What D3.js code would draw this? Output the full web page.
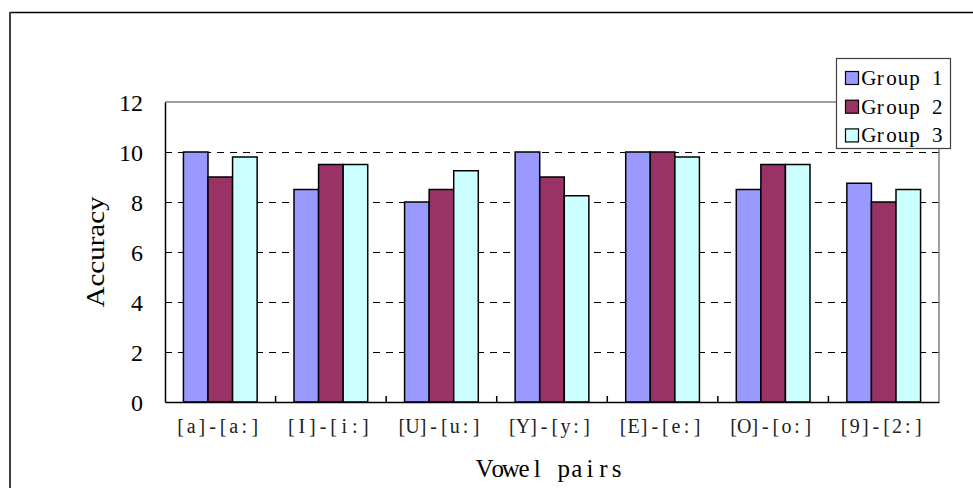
<!DOCTYPE html>
<html>
<head>
<meta charset="utf-8">
<script src="https://cdn.jsdelivr.net/npm/d3@7"></script>
<style>
  html, body { margin: 0; padding: 0; background: #fff; }
  svg { display: block; }
</style>
</head>
<body>
<svg id="chart" width="973" height="488"></svg>
<script>
const categories = ["[a]-[a:]", "[I]-[i:]", "[U]-[u:]", "[Y]-[y:]", "[E]-[e:]", "[O]-[o:]", "[9]-[2:]"];
const seriesNames = ["Group 1", "Group 2", "Group 3"];
const group1 = [10, 8.5, 8, 10, 10, 8.5, 8.75];
const group2 = [9, 9.5, 8.5, 9, 10, 9.5, 8];
const group3 = [9.8, 9.5, 9.25, 8.25, 9.8, 9.5, 8.5];
const yTicks = [0, 2, 4, 6, 8, 10, 12];
const colors = ["#9999FF", "#993366", "#CCFFFF"];

const seriesValues = [group1, group2, group3];
const svg = d3.select("#chart");
const SERIF = "Liberation Serif, serif";

const plot = { left: 165, right: 939, top: 102, bottom: 402 };

// monospaced layout with serif glyphs: place each char at fixed pitch
function monoText(sel, str, centerX, pitch) {
  const start = centerX - pitch * str.length / 2;
  const xs = Array.from(str, (c, i) => (start + pitch * (i + 0.5)).toFixed(2));
  sel.attr("x", xs.join(" ")).attr("text-anchor", "middle").text(str);
}

// outer frame
svg.append("line").attr("x1", 10).attr("x2", 973).attr("y1", 12.5).attr("y2", 12.5)
  .attr("stroke", "#000").attr("stroke-width", 1.5);
svg.append("line").attr("x1", 10).attr("x2", 10).attr("y1", 12).attr("y2", 488)
  .attr("stroke", "#404040").attr("stroke-width", 2);

const x0 = d3.scaleBand().domain(categories).range([plot.left, plot.right]).padding(0);
const x1 = d3.scaleBand().domain(seriesNames).range([0, x0.bandwidth()]).paddingInner(0).paddingOuter(0.75);
const y = d3.scaleLinear().domain([0, 12]).range([plot.bottom, plot.top]);

// gridlines
svg.append("g").selectAll("line").data(yTicks.filter(t => t > 0 && t < 12)).join("line")
  .attr("x1", plot.left).attr("x2", plot.right)
  .attr("y1", d => Math.round(y(d)) + 0.5).attr("y2", d => Math.round(y(d)) + 0.5)
  .attr("stroke", "#000").attr("stroke-width", 1).attr("stroke-dasharray", "7,6");

// plot border top/right (gray)
svg.append("line").attr("x1", plot.left).attr("x2", plot.right)
  .attr("y1", y(12)).attr("y2", y(12)).attr("stroke", "#808080").attr("stroke-width", 1.5);
svg.append("line").attr("x1", plot.right).attr("x2", plot.right)
  .attr("y1", y(12)).attr("y2", plot.bottom).attr("stroke", "#808080").attr("stroke-width", 1.5);

// bars
const groups = svg.append("g").selectAll("g").data(categories).join("g")
  .attr("transform", d => `translate(${x0(d)},0)`);
groups.selectAll("rect")
  .data((c, i) => seriesNames.map((s, j) => ({ s, j, v: seriesValues[j][i] })))
  .join("rect")
  .attr("x", d => x1(d.s))
  .attr("width", x1.bandwidth())
  .attr("y", d => y(d.v))
  .attr("height", d => y(0) - y(d.v))
  .attr("fill", d => colors[d.j])
  .attr("stroke", "#000").attr("stroke-width", 1.5);

// y axis
const yAxis = d3.axisLeft(y).tickValues(yTicks).tickSize(0).tickPadding(22).tickFormat(d3.format("d"));
const yg = svg.append("g").attr("transform", `translate(${plot.left},0)`).call(yAxis);
yg.select(".domain").attr("stroke", "#000").attr("stroke-width", 1.5);
yg.selectAll("text").attr("font-family", SERIF).attr("font-size", 24).attr("fill", "#000")
  .attr("dy", "0.35em");

// x axis
const xAxis = d3.axisBottom(x0).tickSize(0).tickFormat(() => "");
const xg = svg.append("g").attr("transform", `translate(0,${plot.bottom})`).call(xAxis);
xg.select(".domain").attr("stroke", "#000").attr("stroke-width", 1.5);
const bounds = categories.slice(1).map(c => x0(c));
svg.append("g").selectAll("line").data(bounds).join("line")
  .attr("x1", d => d).attr("x2", d => d)
  .attr("y1", plot.bottom).attr("y2", plot.bottom - 6)
  .attr("stroke", "#000").attr("stroke-width", 1.5);
// category labels
svg.append("g").selectAll("text").data(categories).join("text")
  .attr("y", 433)
  .attr("font-family", SERIF).attr("font-size", 20)
  .attr("fill", "#222")
  .each(function (d) { monoText(d3.select(this), d, x0(d) + x0.bandwidth() / 2 - 2.5, 10.6); });

// axis titles
monoText(svg.append("text").attr("y", 477)
  .attr("font-family", SERIF).attr("font-size", 25).attr("fill", "#000"), "Vowel pairs", 550.5, 13.2);
svg.append("text").attr("transform", "translate(104,252) rotate(-90)").attr("text-anchor", "middle")
  .attr("font-family", SERIF).attr("font-size", 26).attr("fill", "#000")
  .attr("textLength", 111).attr("lengthAdjust", "spacingAndGlyphs")
  .text("Accuracy");

// legend
const lg = svg.append("g");
lg.append("rect").attr("x", 836.5).attr("y", 58.5).attr("width", 114).attr("height", 90)
  .attr("fill", "#fff").attr("stroke", "#404040").attr("stroke-width", 1.2);
const items = lg.selectAll("g.item").data(seriesNames).join("g").attr("class", "item")
  .attr("transform", (d, i) => `translate(0,${i * 28.7})`);
items.append("rect").attr("x", 845.5).attr("y", 71.5).attr("width", 13).attr("height", 13)
  .attr("fill", (d, i) => colors[i]).attr("stroke", "#000").attr("stroke-width", 1.2);
items.append("text").attr("y", 85)
  .attr("font-family", SERIF).attr("font-size", 21).attr("fill", "#000")
  .each(function (d) { monoText(d3.select(this), d, 863 + 40, 11.4); });
</script>
</body>
</html>
